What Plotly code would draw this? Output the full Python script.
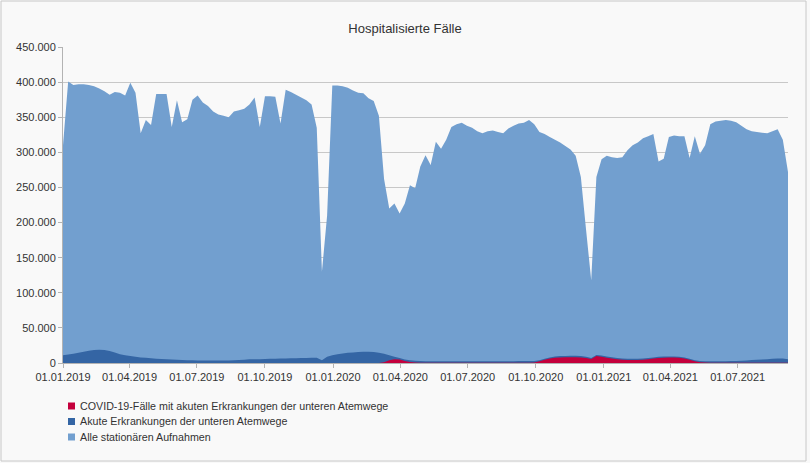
import pandas as pd
import plotly.graph_objects as go

# Weekly values (in thousands), starting 01.01.2019
alle_k = [310, 401, 396, 397, 397, 396, 394, 391, 387, 382,
          386, 385, 381, 399, 385, 327, 346, 339, 383, 383,
          383, 336, 374, 343, 347, 375, 381, 371, 366, 358,
          354, 352, 350, 358, 360, 362, 368, 378, 336, 380,
          380, 379, 341, 389, 386, 382, 378, 374, 368, 335,
          130, 210, 395, 395, 394, 392, 388, 385, 384, 377,
          373, 352, 262, 220, 227, 213, 227, 253, 249, 280,
          296, 282, 315, 305, 318, 336, 340, 342, 338, 335,
          330, 327, 330, 331, 329, 327, 334, 338, 341, 342,
          346, 340, 329, 326, 322, 318, 314, 309, 304, 295,
          265, 190, 118, 265, 290, 295, 293, 292, 293, 303,
          310, 314, 320, 323, 326, 287, 291, 322, 324, 323,
          323, 292, 323, 298, 310, 340, 344, 345, 346, 345,
          343, 338, 333, 330, 329, 328, 327, 330, 333, 318,
          272]

akute_k = [11, 12, 13, 14.5, 16, 17.5, 18.5, 19, 18.5, 17,
           15, 12.5, 11, 10, 9, 8, 7.5, 6.8, 6.2, 5.8,
           5.3, 5, 4.6, 4.3, 4, 3.8, 3.6, 3.5, 3.4, 3.4,
           3.4, 3.5, 3.7, 4, 4.4, 4.8, 5.2, 5.5, 5.5, 5.8,
           6, 6.2, 6.3, 6.5, 6.6, 6.8, 7, 7.2, 7.5, 7.5,
           4, 9, 11, 12.5, 13.5, 14.5, 15, 15.5, 16, 16,
           15.5, 14.5, 13, 11, 9, 7, 5, 4, 3.2, 2.8,
           2.6, 2.6, 2.6, 2.6, 2.6, 2.6, 2.6, 2.6, 2.6, 2.6,
           2.6, 2.6, 2.6, 2.6, 2.6, 2.6, 2.6, 2.6, 2.7, 2.8,
           3.0, 3.0, 4.0, 6.0, 8.0, 9.2, 9.8, 10, 10.2, 10.2,
           9.8, 8.8, 7.2, 11.5, 10.8, 9.2, 8.2, 7.2, 6.5, 6.0,
           6.0, 6.0, 6.3, 7.0, 8.0, 8.8, 9.2, 9.4, 9.4, 9.0,
           8.0, 6.0, 4.0, 3.0, 2.6, 2.5, 2.5, 2.5, 2.6, 2.8,
           3.0, 3.3, 3.7, 4.1, 4.5, 5.0, 5.5, 6.0, 6.5, 6.5,
           5.5]

covid_k = [0] * 62 + [
           1, 4, 5.5, 5, 3, 1.5, 0.8, 0.5,
           0.3, 0.3, 0.3, 0.3, 0.3, 0.3, 0.3, 0.3, 0.3, 0.3,
           0.3, 0.3, 0.3, 0.3, 0.3, 0.3, 0.3, 0.3, 0.3, 0.3,
           0.3, 0.8, 2.5, 4.5, 6.5, 7.5, 8, 8.2, 8.3, 8.3,
           8, 7, 5.7, 10, 9, 7.5, 6.5, 5.5, 4.8, 4.3,
           4.3, 4.4, 4.8, 5.5, 6.5, 7.2, 7.6, 7.8, 7.8, 7.5,
           6.5, 4.5, 2.5, 1.2, 0.6, 0.4, 0.3, 0.3, 0.3, 0.3,
           0.3, 0.3, 0.3, 0.3, 0.3, 0.3, 0.3, 0.3, 0.3, 0.4,
           0.5]

dates = pd.date_range(start="2019-01-01", periods=len(alle_k), freq="7D")

series_names = [
    "COVID-19-Fälle mit akuten Erkrankungen der unteren Atemwege",
    "Akute Erkrankungen der unteren Atemwege",
    "Alle stationären Aufnahmen",
]
colors = ["#c4003c", "#3465a4", "#729fcf"]

fig = go.Figure()
fig.add_trace(go.Scatter(x=dates, y=[v * 1000 for v in alle_k], name=series_names[2],
                         mode="none", fill="tozeroy", fillcolor=colors[2]))
fig.add_trace(go.Scatter(x=dates, y=[v * 1000 for v in akute_k], name=series_names[1],
                         mode="none", fill="tozeroy", fillcolor=colors[1]))
fig.add_trace(go.Scatter(x=dates, y=[v * 1000 for v in covid_k], name=series_names[0],
                         mode="none", fill="tozeroy", fillcolor=colors[0]))

W, H = 810, 463
L, R, T, B = 63, 22, 47, 100
pw, ph = W - L - R, H - T - B

def px_x(p):
    return (p - L) / pw

def px_y(p):
    return (H - B - p) / ph

# manual legend (square swatches + text)
shapes = [dict(type="rect", xref="paper", yref="paper",
               x0=px_x(1), x1=px_x(806), y0=px_y(461), y1=px_y(1),
               line=dict(color="#c8c8c8", width=1), fillcolor="rgba(0,0,0,0)", layer="below")]
annotations = []
rows = [406, 421.5, 437]
for name, col, ry in zip(series_names, colors, rows):
    shapes.append(dict(type="rect", xref="paper", yref="paper",
                       x0=px_x(68), x1=px_x(75), y0=px_y(ry + 3.5), y1=px_y(ry - 3.5),
                       line=dict(width=0), fillcolor=col))
    annotations.append(dict(text=name, xref="paper", yref="paper",
                            x=px_x(78), y=px_y(ry), xanchor="left", yanchor="middle",
                            showarrow=False, font=dict(size=10.7, color="#333333")))

fig.update_layout(
    width=W, height=H,
    margin=dict(l=L, r=R, t=T, b=B, pad=0, autoexpand=False),
    paper_bgcolor="#f9f9f9",
    plot_bgcolor="#f9f9f9",
    separators=",.",
    font=dict(family="Liberation Sans, Arial, sans-serif", size=11, color="#333333"),
    title=dict(text="Hospitalisierte Fälle", x=px_x(405), xref="paper", xanchor="center",
               y=1 - 28 / H, yanchor="middle",
               font=dict(size=13, color="#333333")),
    showlegend=False,
    xaxis=dict(type="date", range=[dates[0], dates[-1]],
               tick0="2019-01-01", dtick="M3", tickformat="%d.%m.%Y",
               showgrid=False, showline=True, linecolor="#b3b3b3", linewidth=1,
               ticks="outside", ticklen=4, tickcolor="#b3b3b3",
               tickfont=dict(size=11, color="#333333"), zeroline=False),
    yaxis=dict(range=[0, 450000], tickvals=[i * 50000 for i in range(10)],
               tickformat=",d", showgrid=True, gridcolor="#c8c8c8", gridwidth=1,
               showline=True, linecolor="#b3b3b3", linewidth=1,
               ticks="outside", ticklen=4, tickcolor="#b3b3b3",
               tickfont=dict(size=11, color="#333333"), zeroline=False),
    shapes=shapes,
    annotations=annotations,
)

fig.write_html("out.html", config={"displayModeBar": False},
               post_script="document.body.style.margin='0';")
